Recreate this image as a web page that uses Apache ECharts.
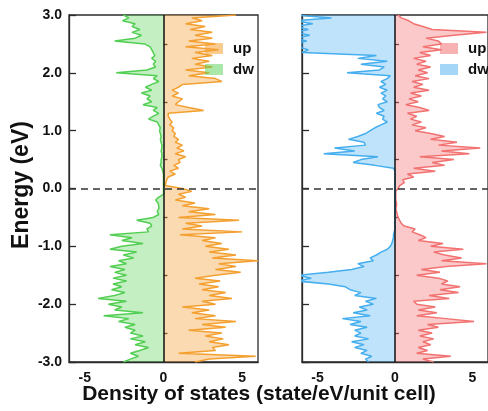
<!DOCTYPE html>
<html>
<head>
<meta charset="utf-8">
<script src="https://cdn.jsdelivr.net/npm/echarts@6/dist/echarts.min.js"></script>
<style>
    html, body { margin: 0; padding: 0; background: #fff; }
    #chart { width: 488px; height: 411px; }
</style>
</head>
<body>
<div id="chart"></div>
<script>
    // energy grid, 3.0 eV at the top down to -3.0 eV, step 0.05
    let energyList = []
    for (let i = 0; i <= 120; i++) energyList.push(((300 - i * 5) / 100).toFixed(2))

    let yTickLabels = ['3.0', '2.0', '1.0', '0.0', '-1.0', '-2.0', '-3.0']
    let xTicks = [-5, 0, 5]
    let xMinorTicks = [-2.5, 2.5]

    // left panel, values from 3.0 eV down to -3.0 eV
    let upLeft = [
        4.6, 1.8, 2.45, 1.4, 2.65, 1.7, 3.1, 2.0, 3.1, 1.6,
        3.3, 1.4, 3.5, 2.0, 3.1, 1.8, 2.9, 2.0, 3.1, 1.4,
        2.9, 1.6, 3.3, 3.7, 1.2, 0.95, 0.55, 0.95, 0.55, 1.2,
        0.95, 0.75, 1.6, 2.55, 0.3, 0.3, 0.4, 0.55, 0.4, 0.65,
        0.55, 0.75, 0.65, 0.95, 0.75, 1.2, 0.85, 1.3, 0.75, 1.4,
        0.95, 1.05, 0.65, 0.95, 0.4, 0.75, 0.3, 0.2, 0.15, 0.1,
        1.2, 1.8, 0.95, 1.4, 0.75, 2.0, 1.2, 2.9, 1.6, 3.3,
        0.95, 4.8, 1.4, 2.45, 1.2, 5.0, 1.05, 3.3, 2.45, 3.7,
        2.65, 4.15, 2.9, 4.6, 3.1, 6.0, 3.5, 4.6, 3.3, 4.9,
        3.3, 2.0, 3.6, 2.25, 3.5, 2.45, 3.95, 2.9, 4.35, 2.45,
        3.3, 1.2, 2.9, 1.8, 3.3, 2.0, 4.6, 2.45, 3.95, 1.6,
        3.7, 2.65, 3.8, 2.9, 4.15, 3.1, 3.3, 0.95, 5.85, 2.9,
        2.0
    ]
    let dwLeft = [
        -2.55, -2.2, -2.6, -1.8, -2.0, -1.5, -2.0, -1.4, -1.8, -3.1,
        -1.2, -0.85, -0.75, -0.65, -0.55, -0.75, -0.5, -0.65, -0.5, -1.05,
        -3.0, -0.4, -0.65, -0.3, -0.75, -1.15, -0.75, -1.4, -0.85, -1.05,
        -0.75, -1.3, -0.4, -0.65, -0.3, -0.65, -0.95, -0.4, -0.3, -0.2,
        -0.25, -0.2, -0.15, -0.2, -0.15, -0.1, -0.1, -0.15, -0.1, -0.1,
        -0.15, -0.15, -0.2, -0.1, -0.05, 0, 0, 0, 0, 0,
        0, 0, 0, -0.3, -0.5, -0.35, -0.3, -0.3, -0.4, -0.3,
        -0.65, -1.7, -0.85, -0.75, -1.05, -0.95, -3.4, -2.0, -2.65, -1.3,
        -2.65, -3.4, -1.7, -2.55, -1.9, -2.85, -2.35, -3.4, -2.45, -3.1,
        -2.35, -3.2, -2.35, -3.2, -2.65, -3.3, -2.45, -3.1, -4.15, -2.35,
        -3.5, -2.65, -3.1, -1.3, -3.8, -2.2, -2.85, -1.8, -2.45, -1.8,
        -2.1, -1.3, -2.1, -1.15, -1.8, -0.95, -1.5, -2.1, -1.6, -2.1,
        -2.55
    ]
    // right panel
    let upRight = [
        0.2, 0.4, 0.9, 1.2, 1.8, 2.4, 5.9, 3.8, 2.0, 2.8,
        3.0, 1.8, 3.0, 1.6, 2.3, 1.2, 2.0, 1.4, 2.3, 1.5,
        2.1, 1.3, 2.2, 1.1, 1.8, 1.2, 2.2, 1.0, 1.7, 0.9,
        1.5, 0.7, 1.6, 2.2, 0.8, 1.4, 1.0, 1.7, 1.1, 2.0,
        1.3, 2.3, 3.2, 2.3, 4.0, 2.8, 5.5, 3.0, 4.8, 1.6,
        3.8, 2.4, 3.2, 1.2, 2.6, 0.8, 1.2, 0.5, 0.6, 0.3,
        0.2, 0.05, 0.05, 0.05, 0.05, 0.1, 0.1, 0.05, 0.1, 0.15,
        0.2, 0.3, 0.4, 0.6, 1.3, 1.1, 1.6, 2.0, 1.5, 3.1,
        2.3, 4.4, 2.5, 3.2, 4.3, 3.0, 5.9, 3.3, 1.7, 2.9,
        1.4, 2.8, 3.4, 3.0, 4.2, 2.9, 4.1, 2.2, 3.5, 1.2,
        1.4, 2.6, 1.5, 2.7, 1.4, 3.3, 5.1, 2.1, 2.8, 1.5,
        2.4, 1.6, 2.5, 1.8, 2.3, 1.5, 2.1, 1.4, 3.6, 1.8,
        2.5
    ]
    let dwRight = [
        -6.5, -4.1, -6.5, -5.3, -6.5, -5.6, -6.5, -5.5, -6.5, -5.7,
        -6.5, -6.3, -5.6, -6.0, -1.2, -2.4, -0.5, -2.2, -0.7, -1.0,
        -3.1, -0.3, -0.5, -0.9, -0.6, -1.0, -0.5, -0.9, -0.6, -0.8,
        -0.5, -1.1, -1.0, -0.7, -1.2, -0.7, -0.8, -0.5, -0.9, -1.3,
        -1.6, -1.9, -2.4, -3.0, -2.0, -1.9, -3.9, -2.6, -4.6, -1.1,
        -2.2, -2.7, -1.3, -0.1, 0, 0, 0, 0, 0, 0,
        0, 0, 0, 0, 0, 0, 0, 0, 0, 0,
        0, 0, 0, 0, 0, -0.05, -0.1, -0.1, -0.15, -0.2,
        -0.3, -0.5, -0.9, -1.2, -1.6, -1.4, -2.4, -2.0, -2.8, -4.3,
        -6.3, -5.4, -6.3, -4.3, -3.2, -2.9, -2.2, -2.6, -1.2, -1.9,
        -1.4, -2.3, -1.8, -2.7, -1.6, -3.4, -2.2, -2.9, -1.8, -2.6,
        -2.2, -2.6, -1.7, -2.8, -2.0, -2.6, -1.8, -2.2, -1.5, -1.9,
        -1.7
    ]

    const font = '"Liberation Sans", Arial, sans-serif'
    const axisColor = '#2b2b2b'

    function xAxisPair(gridIndex) {
        return [
            {
                gridIndex: gridIndex, type: 'value', min: -6, max: 6,
                axisLine: { show: true, onZero: false, lineStyle: { color: axisColor, width: 1.3 } },
                axisTick: { inside: true, length: 7, customValues: xTicks, lineStyle: { color: axisColor, width: 1.3 } },
                axisLabel: {
                    customValues: xTicks, margin: 9, color: '#111',
                    fontFamily: font, fontWeight: 'bold', fontSize: 14
                },
                splitLine: { show: false }
            },
            {
                gridIndex: gridIndex, type: 'value', min: -6, max: 6,
                axisLine: { show: false },
                axisTick: { inside: true, length: 4, customValues: xMinorTicks, lineStyle: { color: axisColor, width: 1.3 } },
                axisLabel: { show: false },
                splitLine: { show: false }
            }
        ]
    }

    function yAxisPair(gridIndex, showLabel) {
        return [
            {
                gridIndex: gridIndex, type: 'category', data: energyList, inverse: true,
                boundaryGap: false, position: 'left',
                axisLine: { show: true, onZero: false, lineStyle: { color: axisColor, width: 1.3 } },
                axisTick: {
                    inside: true, length: 7,
                    interval: idx => idx % 20 === 0,
                    lineStyle: { color: axisColor, width: 1.3 }
                },
                axisLabel: {
                    show: showLabel, margin: 7, color: '#111',
                    interval: idx => idx % 20 === 0,
                    formatter: v => yTickLabels[energyList.indexOf(v) / 20],
                    fontFamily: font, fontWeight: 'bold', fontSize: 14
                },
                splitLine: { show: false }
            },
            {
                gridIndex: gridIndex, type: 'category', data: energyList, inverse: true,
                boundaryGap: false, position: 'left',
                axisLine: { show: false },
                axisTick: {
                    inside: true, length: 4,
                    interval: idx => idx % 20 === 10,
                    lineStyle: { color: axisColor, width: 1.3 }
                },
                axisLabel: { show: false },
                splitLine: { show: false }
            }
        ]
    }

    function dosSeries(name, axisIndex, data, lineColor, fillColor, markLine) {
        let s = {
            name: name,
            type: 'line',
            xAxisIndex: axisIndex,
            yAxisIndex: axisIndex,
            data: data,
            showSymbol: false,
            symbol: 'none',
            lineStyle: { color: lineColor, width: 1.5 },
            itemStyle: { color: lineColor },
            areaStyle: { color: fillColor, origin: 0 },
            animation: false
        }
        if (markLine) s.markLine = markLine
        return s
    }

    const zeroLines = {
        silent: true,
        symbol: 'none',
        label: { show: false },
        data: [
            { xAxis: 0, lineStyle: { color: '#111', width: 1.5, type: 'solid' } },
            { yAxis: '0.00', lineStyle: { color: '#333', width: 1.5, type: [7, 5] } }
        ]
    }

    const orangeFill = 'rgba(245,160,51,0.55)'
    const greenFill = 'rgba(85,209,85,0.5)'
    const redFill = 'rgba(244,114,114,0.55)'
    const blueFill = 'rgba(74,176,240,0.5)'

    function legendBox(left, names, fills) {
        return {
            left: left, top: 41, orient: 'vertical', icon: 'rect',
            itemWidth: 18, itemHeight: 11, itemGap: 6, padding: 0,
            selectedMode: false,
            data: names.map((n, i) => ({ name: n, itemStyle: { color: fills[i], borderWidth: 0 } })),
            textStyle: { color: '#111', fontFamily: font, fontWeight: 'bold', fontSize: 15, padding: [0, 0, 0, 5] }
        }
    }

    let chart = echarts.init(document.getElementById('chart'))
    chart.setOption({
        backgroundColor: '#fff',
        animation: false,
        grid: [
            { left: 69, top: 15, width: 189, height: 347, show: true, borderColor: axisColor, borderWidth: 1.3 },
            { left: 302, top: 15, width: 189, height: 347, show: true, borderColor: axisColor, borderWidth: 1.3 }
        ],
        xAxis: xAxisPair(0).concat(xAxisPair(1)),
        yAxis: yAxisPair(0, true).concat(yAxisPair(1, false)),
        legend: [
            legendBox(205, ['up', 'dw'], [orangeFill, greenFill]),
            legendBox(440, ['up ', 'dw '], [redFill, blueFill])
        ],
        series: [
            dosSeries('up', 0, upLeft, '#F4A030', orangeFill, zeroLines),
            dosSeries('dw', 0, dwLeft, '#52CF52', greenFill),
            dosSeries('up ', 2, upRight, '#F27272', redFill, zeroLines),
            dosSeries('dw ', 2, dwRight, '#45AEEF', blueFill)
        ],
        graphic: [
            {
                type: 'text', x: 22, y: 185, rotation: Math.PI / 2,
                style: {
                    text: 'Energy (eV)', fill: '#111',
                    font: 'bold 23px ' + font,
                    textAlign: 'center', textVerticalAlign: 'middle'
                }
            },
            {
                type: 'text', x: 259, y: 394,
                style: {
                    text: 'Density of states (state/eV/unit cell)', fill: '#111',
                    font: 'bold 21px ' + font,
                    textAlign: 'center', textVerticalAlign: 'middle'
                }
            }
        ]
    })
</script>
</body>
</html>
